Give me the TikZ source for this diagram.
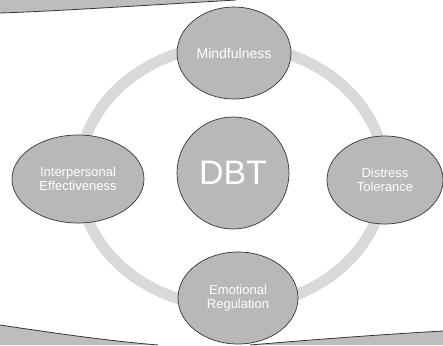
\documentclass[tikz,border=0pt]{standalone}
\usepackage{fontspec}
\setmainfont{Liberation Sans}
\usetikzlibrary{shapes.geometric}
\definecolor{bubblefill}{HTML}{B8B8B8}
\definecolor{bannerfill}{HTML}{BDBDBD}
\definecolor{ringgray}{HTML}{D9D9D9}
\definecolor{edgegray}{HTML}{353535}
\begin{document}
\begin{tikzpicture}[x=1pt,y=-1pt,
  bubble/.style={ellipse, draw=edgegray, line width=0.7pt, fill=bubblefill,
    text=white, align=center, inner sep=0pt,
    font=\fontsize{13}{14}\selectfont},
  banner/.style={fill=bannerfill},
  bannerline/.style={draw=edgegray, line width=0.8pt}]
\useasboundingbox (0,0) rectangle (443,345);
\clip (0,0) rectangle (443,345);

% corner bands
\fill[banner] (0,0) -- (236,0) .. controls (150,5) and (60,11) .. (0,13) -- cycle;
\draw[bannerline] (236,0) .. controls (150,5) and (60,11) .. (0,13);
\fill[banner] (0,325) .. controls (60,334) and (110,341) .. (158,345) -- (0,345) -- cycle;
\draw[bannerline] (0,325) .. controls (60,334) and (110,341) .. (158,345);
\fill[banner] (250,345) .. controls (320,339) and (390,334) .. (443,331) -- (443,345) -- cycle;
\draw[bannerline] (250,345) .. controls (320,339) and (390,334) .. (443,331);

% cycle ring
\draw[ringgray, line width=11pt] (232,176) ellipse [x radius=153, y radius=131];

% centre and satellites
\node[bubble, minimum width=112pt, minimum height=112pt,
  font=\fontsize{34}{36}\selectfont] (dbt) at (233,173) {DBT};
\node[bubble, minimum width=114pt, minimum height=92pt,
  font=\fontsize{14}{15}\selectfont] (mind) at (234,53) {Mindfulness};
\node[bubble, minimum width=132pt, minimum height=88pt] (inter) at (78,179) {Interpersonal\\Effectiveness};
\node[bubble, minimum width=116pt, minimum height=88pt] (dist) at (385,180) {Distress\\Tolerance};
\node[bubble, minimum width=120pt, minimum height=92pt] (emo) at (238,298) {Emotional\\Regulation};
\end{tikzpicture}
\end{document}
